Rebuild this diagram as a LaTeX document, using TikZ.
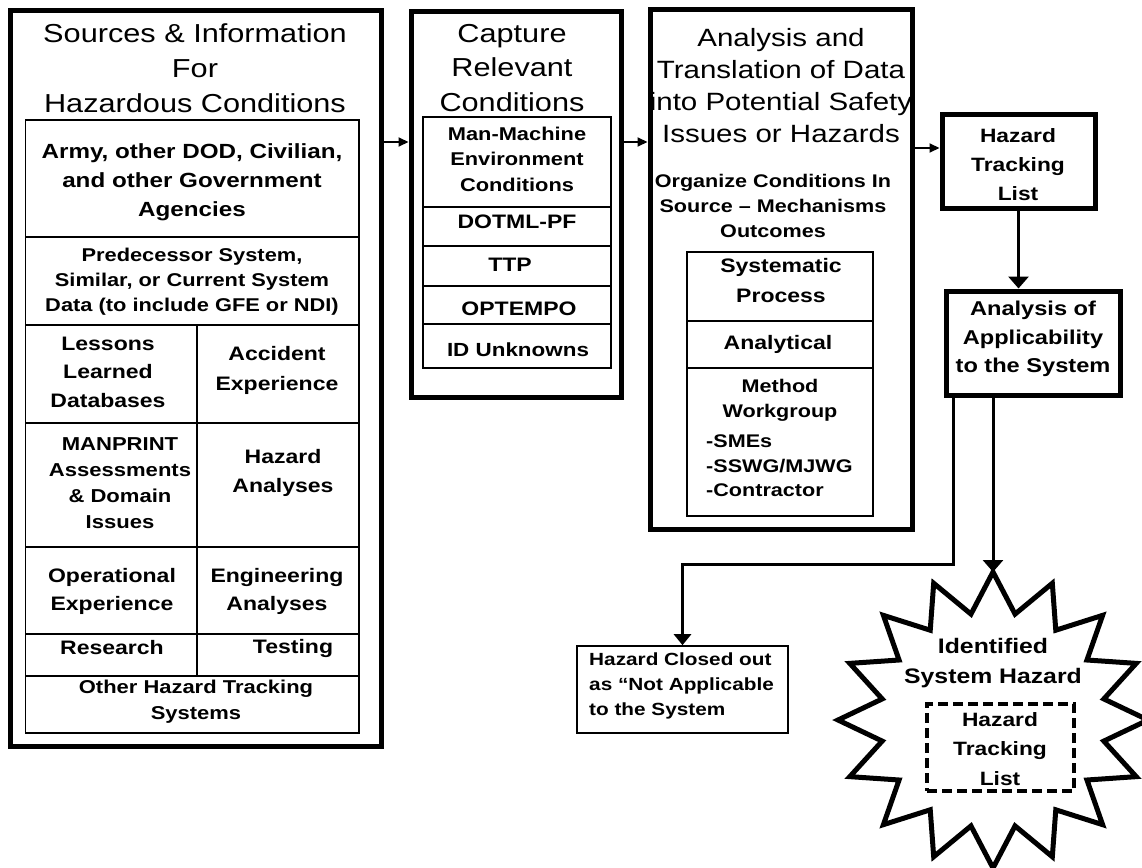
\documentclass[tikz,border=0pt]{standalone}
\usepackage{fontspec}
\setmainfont{Liberation Sans}[FakeStretch=1.18]
\usetikzlibrary{arrows.meta}
\begin{document}
\begin{tikzpicture}[x=1pt,y=-1pt,
  frame/.style={draw, line width=5pt, rectangle, inner sep=0pt},
  thinframe/.style={draw, line width=1.6pt, rectangle, inner sep=0pt},
  grid/.style={line width=1.6pt},
  ttl/.style 2 args={align=center, inner sep=0pt, font=\fontsize{#1}{#2}\selectfont},
  txt/.style 2 args={align=center, inner sep=0pt, font=\bfseries\fontsize{#1}{#2}\selectfont},
  ltxt/.style 2 args={align=left, inner sep=0pt, anchor=west, font=\bfseries\fontsize{#1}{#2}\selectfont},
  conn/.style={line width=2pt, -{Triangle[length=10pt,width=9pt]}},
  connv/.style={line width=3pt, -{Triangle[length=12pt,width=20pt]}},
  connc/.style={line width=3pt, -{Triangle[length=11pt,width=17pt]}},
]
\useasboundingbox (0,0) rectangle (1142,867);

% ---------- Sources & Information ----------
\node[frame, minimum width=371pt, minimum height=735pt] (src) at (195.5,378.5) {};
\node[ttl={26}{35}] (srcT) at (195,68) {Sources \& Information\\For\\Hazardous Conditions};
\node[thinframe, minimum width=333.5pt, minimum height=613pt] (srcTab) at (192.25,426.5) {};
\foreach \yy in {237,325,423,547,634,676}
  \draw[grid] (25.5,\yy) -- (359,\yy);
\draw[grid] (197,325) -- (197,676);
\node[txt={20.5}{29}] (s1) at (192,182) {Army, other DOD, Civilian,\\and other Government\\Agencies};
\node[txt={18.5}{25}] (s2) at (192,282) {Predecessor System,\\Similar, or Current System\\Data (to include GFE or NDI)};
\node[txt={19.5}{28.5}] (s3a) at (108,372) {Lessons\\Learned\\Databases};
\node[txt={19.5}{30}] (s3b) at (277,370) {Accident\\Experience};
\node[txt={18.7}{26}] (s4a) at (120,483) {MANPRINT\\Assessments\\\& Domain\\Issues};
\node[txt={19.5}{29}] (s4b) at (283,473) {Hazard\\Analyses};
\node[txt={19.5}{28}] (s5a) at (112,591) {Operational\\Experience};
\node[txt={19.5}{28}] (s5b) at (277,591) {Engineering\\Analyses};
\node[txt={19.5}{28}] (s6a) at (112,648) {Research};
\node[txt={19.5}{28}] (s6b) at (293,648) {Testing};
\node[txt={18.6}{26}] (s7) at (196,702) {Other Hazard Tracking\\Systems};

% ---------- Capture Relevant Conditions ----------
\node[frame, minimum width=210pt, minimum height=385pt] (cap) at (516,204.5) {};
\node[ttl={26}{34.5}] (capT) at (512,68) {Capture\\Relevant\\Conditions};
\node[thinframe, minimum width=188pt, minimum height=251pt] (capTab) at (517,242.5) {};
\foreach \yy in {207,246,286,324}
  \draw[grid] (423,\yy) -- (611,\yy);
\node[txt={18.5}{25.5}] (c1) at (517,159) {Man-Machine\\Environment\\Conditions};
\node[txt={19.5}{26}] (c2) at (517,222) {DOTML-PF};
\node[txt={19.5}{26}] (c3) at (510,265) {TTP};
\node[txt={19.5}{26}] (c4) at (519,309) {OPTEMPO};
\node[txt={19}{26}] (c5) at (518,350) {ID Unknowns};

% ---------- Analysis and Translation ----------
\node[frame, minimum width=262pt, minimum height=519pt] (ana) at (781,269.5) {};
\node[ttl={25}{32}] (anaT) at (781,86) {Analysis and\\Translation of Data\\into Potential Safety\\Issues or Hazards};
\node[txt={18.3}{25}] (anaS) at (773,206) {Organize Conditions In\\Source – Mechanisms\\Outcomes};
\node[thinframe, minimum width=186pt, minimum height=264pt] (anaTab) at (780,384) {};
\foreach \yy in {321,368}
  \draw[grid] (687,\yy) -- (873,\yy);
\node[txt={19.5}{30}] (a1) at (781,281) {Systematic\\Process};
\node[txt={19.5}{26}] (a2) at (778,344) {Analytical};
\node[txt={18.3}{25}] (a3) at (780,400) {Method\\Workgroup};
\node[ltxt={18.3}{24.5}] (a4) at (706,466) {-SMEs\\-SSWG/MJWG\\-Contractor};

% ---------- Hazard Tracking List ----------
\node[frame, minimum width=153pt, minimum height=94pt] (htl) at (1018.5,161) {};
\node[txt={19.3}{29}] (htlT) at (1018,165) {Hazard\\Tracking\\List};

% ---------- Analysis of Applicability ----------
\node[frame, minimum width=174pt, minimum height=104pt] (aoa) at (1033,343) {};
\node[txt={20}{28.5}] (aoaT) at (1033,339) {Analysis of\\Applicability\\to the System};

% ---------- Closed out ----------
\node[thinframe, minimum width=211pt, minimum height=87pt] (closed) at (682.5,689.5) {};
\node[ltxt={17.6}{25}] (closedT) at (589,686) {Hazard Closed out\\as “Not Applicable\\to the System};

% ---------- Identified System Hazard (star) ----------
\draw[line width=5pt, line join=miter, shift={(993,720)}]
  (90:155 and 148)
  \foreach \k in {1,...,15}{ -- ({90+22.5*\k-11.25}:113 and 108) -- ({90+22.5*\k}:155 and 148) }
  -- (438.75:113 and 108) -- cycle;
\coordinate (hzTop) at (993,572);
\node[txt={21}{30}] (hz) at (993,663) {Identified\\System Hazard};
\node[draw, line width=4pt, dash pattern=on 10pt off 5pt, rectangle, inner sep=0pt,
      minimum width=147pt, minimum height=87pt] (hzBox) at (1000.5,747.5) {};
\node[txt={19.3}{29.5}] (hzBoxT) at (1000,749) {Hazard\\Tracking\\List};

% ---------- Connectors ----------
\coordinate (ya) at (0,142);
\coordinate (yb) at (0,148);
\draw[conn] (src.east |- ya) -- (cap.west |- ya);
\draw[conn] (cap.east |- ya) -- (ana.west |- ya);
\draw[conn] (ana.east |- yb) -- (htl.west |- yb);
\draw[connv] (htl.south) -- (htl.south |- aoa.north);
\draw[connv] (aoa.south -| hzTop) -- (hzTop);
\coordinate (bend) at (953,564);
\draw[connc] (aoa.south -| bend) -- (bend) -| (closed.north);
\end{tikzpicture}
\end{document}
